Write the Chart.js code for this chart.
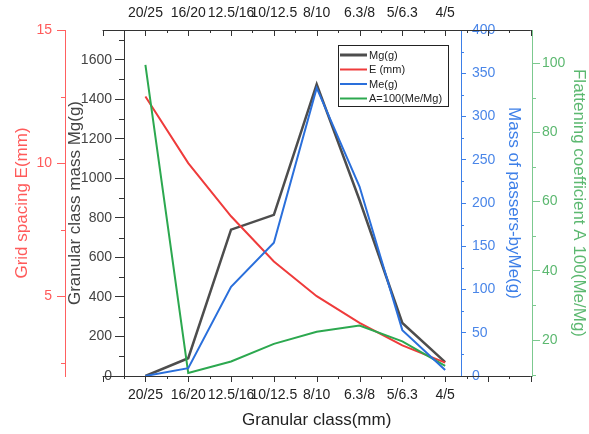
<!DOCTYPE html>
<html>
<head>
<meta charset="utf-8">
<script src="https://cdn.jsdelivr.net/npm/chart.js@4/dist/chart.umd.min.js"></script>
<style>
  body { margin: 0; background: #fff; }
  canvas { display: block; }
</style>
</head>
<body>
<canvas id="chart" width="589" height="434"></canvas>
<script>
// granular classes and measured series
const categories = ['20/25', '16/20', '12.5/16', '10/12.5', '8/10', '6.3/8', '5/6.3', '4/5'];
const massMg = [0, 90, 740, 815, 1475, 890, 268, 70];
const spacingE = [12.5, 10, 8, 6.3, 5, 4, 3.15, 2.5];
const passMe = [0, 9, 103, 154, 333, 219, 53, 7];
const flatA = [99.5, 10.5, 13.8, 18.9, 22.4, 24.2, 19.6, 12.5];

// major tick values of each y axis
const ticksE = [5, 10, 15];
const ticksMg = [0, 200, 400, 600, 800, 1000, 1200, 1400, 1600];
const ticksMe = [0, 50, 100, 150, 200, 250, 300, 350, 400];
const ticksA = [20, 40, 60, 80, 100];

const FONT = 'Arial, "Liberation Sans", sans-serif';
const toXY = arr => arr.map((v, i) => ({x: i, y: v}));
const catTicks = s => { s.ticks = categories.map((c, i) => ({value: i})); };
const setTicks = list => s => { s.ticks = list.map(v => ({value: v})); };

// minor ticks for each y axis
const minorTicks = {
    yE: {step: 5, offset: 2.5, len: 4, color: '#ff6060'},
    yMg: {step: 200, offset: 100, len: 5, color: '#333'},
    yMe: {step: 50, offset: 25, len: 3, color: '#3d7fe8'},
    yA: {step: 20, offset: 10, len: 4, color: '#7cc98f'}
};

const extrasPlugin = {
    id: 'extras',
    afterDraw(chart) {
        const ctx = chart.ctx;
        const xs = chart.scales.x;
        const area = chart.chartArea;
        const x0 = xs.getPixelForValue(-1), x1 = xs.getPixelForValue(9);
        ctx.save();
        // long top/bottom axis lines
        ctx.strokeStyle = '#333';
        ctx.lineWidth = 1;
        ctx.beginPath();
        ctx.moveTo(x0, area.top + 0.5); ctx.lineTo(x1, area.top + 0.5);
        ctx.moveTo(x0, area.bottom + 0.5); ctx.lineTo(x1, area.bottom + 0.5);
        for (let v = -1; v <= 9; v += 0.5) {
            const px = Math.round(xs.getPixelForValue(v)) + 0.5;
            const len = Number.isInteger(v) ? 6 : 3;
            ctx.moveTo(px, area.bottom); ctx.lineTo(px, area.bottom + len);
            ctx.moveTo(px, area.top); ctx.lineTo(px, area.top + len);
        }
        ctx.stroke();

        // minor y ticks
        Object.keys(minorTicks).forEach(id => {
            const s = chart.scales[id];
            const m = minorTicks[id];
            const ax = s.position === 'left' ? s.right : s.left;
            const dir = s.position === 'left' ? -1 : 1;
            ctx.strokeStyle = m.color;
            ctx.beginPath();
            const start = Math.ceil((s.min - m.offset) / m.step) * m.step + m.offset;
            for (let v = start; v <= s.max + 1e-9; v += m.step) {
                const py = Math.round(s.getPixelForValue(v)) + 0.5;
                ctx.moveTo(ax, py); ctx.lineTo(ax + dir * m.len, py);
            }
            ctx.stroke();
        });

        // x axis title, centred on the long axis
        ctx.fillStyle = '#222';
        ctx.font = '17px ' + FONT;
        ctx.textAlign = 'center';
        ctx.textBaseline = 'middle';
        ctx.fillText('Granular class(mm)', (x0 + x1) / 2, 420);

        // legend box
        const lx = 338, ly = 45, lw = 110, lh = 61;
        ctx.fillStyle = '#fff';
        ctx.fillRect(lx, ly, lw, lh);
        ctx.strokeStyle = '#222';
        ctx.lineWidth = 1;
        ctx.strokeRect(lx + 0.5, ly + 0.5, lw, lh);
        ctx.font = '11px ' + FONT;
        ctx.textAlign = 'left';
        chart.data.datasets.forEach((ds, i) => {
            const y = ly + 10 + i * 14.5;
            ctx.strokeStyle = ds.borderColor;
            ctx.lineWidth = i === 0 ? 3 : 2;
            ctx.beginPath();
            ctx.moveTo(lx + 2, y); ctx.lineTo(lx + 29, y);
            ctx.stroke();
            ctx.fillStyle = '#222';
            ctx.fillText(ds.label, lx + 31, y + 0.5);
        });
        ctx.restore();
    }
};

const plain = v => String(v);

new Chart(document.getElementById('chart').getContext('2d'), {
    type: 'line',
    data: {
        datasets: [
            {label: 'Mg(g)', data: toXY(massMg), yAxisID: 'yMg', borderColor: '#4d4d4d', borderWidth: 2.5, order: 3},
            {label: 'E (mm)', data: toXY(spacingE), yAxisID: 'yE', borderColor: '#ef3b3b', borderWidth: 2, order: 2},
            {label: 'Me(g)', data: toXY(passMe), yAxisID: 'yMe', borderColor: '#2a6fdb', borderWidth: 2, order: 0},
            {label: 'A=100(Me/Mg)', data: toXY(flatA), yAxisID: 'yA', borderColor: '#2ca84f', borderWidth: 2, order: 1}
        ]
    },
    options: {
        responsive: false,
        animation: false,
        layout: {padding: 0},
        elements: {point: {radius: 0}, line: {tension: 0}},
        plugins: {legend: {display: false}, tooltip: {enabled: false}},
        scales: {
            x: {
                type: 'linear', position: 'bottom', min: -0.5, max: 7.37,
                afterBuildTicks: catTicks,
                afterFit: s => { s.height = 58; },
                grid: {display: false}, border: {display: false},
                ticks: {callback: v => categories[v], autoSkip: false, maxRotation: 0, minRotation: 0,
                        padding: 3, color: '#222', font: {family: FONT, size: 14}}
            },
            x2: {
                type: 'linear', position: 'top', min: -0.5, max: 7.37,
                afterBuildTicks: catTicks,
                afterFit: s => { s.height = 30; },
                grid: {display: false}, border: {display: false},
                ticks: {callback: v => categories[v], autoSkip: false, maxRotation: 0, minRotation: 0,
                        padding: 0, color: '#222', font: {family: FONT, size: 14}}
            },
            yE: {
                position: 'left', weight: 2, min: 2, max: 15,
                afterBuildTicks: setTicks(ticksE),
                afterFit: s => { s.width = 65; },
                grid: {drawOnChartArea: false, tickLength: 8, tickColor: '#ff6060'},
                border: {color: '#ff6060'},
                ticks: {callback: plain, padding: 5, color: '#ff5a5a', font: {family: FONT, size: 14}},
                title: {display: true, text: 'Grid spacing E(mm)', color: '#ff5a5a',
                        font: {family: FONT, size: 17}, padding: {top: 12, bottom: 0}}
            },
            yMg: {
                position: 'left', weight: 1, min: 0, max: 1750,
                afterBuildTicks: setTicks(ticksMg),
                afterFit: s => { s.width = 59; },
                grid: {drawOnChartArea: false, tickLength: 9, tickColor: '#333'},
                border: {color: '#333'},
                ticks: {callback: plain, padding: 3, color: '#444', font: {family: FONT, size: 14}},
                title: {display: true, text: 'Granular class mass Mg(g)', color: '#444',
                        font: {family: FONT, size: 17}, padding: {top: 0, bottom: 0}}
            },
            yMe: {
                position: 'right', weight: 1, min: 0, max: 400,
                afterBuildTicks: setTicks(ticksMe),
                afterFit: s => { s.width = 71; },
                grid: {drawOnChartArea: false, tickLength: 5, tickColor: '#3d7fe8'},
                border: {color: '#3d7fe8'},
                ticks: {callback: plain, padding: 6, color: '#4a86e8', font: {family: FONT, size: 14}},
                title: {display: true, text: 'Mass of passers-byMe(g)', color: '#3d7fe8',
                        font: {family: FONT, size: 17}, padding: {top: 8, bottom: 0}}
            },
            yA: {
                position: 'right', weight: 2, min: 9.6, max: 109.6,
                afterBuildTicks: setTicks(ticksA),
                afterFit: s => { s.width = 57; },
                grid: {drawOnChartArea: false, tickLength: 8, tickColor: '#7cc98f'},
                border: {color: '#7cc98f'},
                ticks: {callback: plain, padding: 2, color: '#5cb870', font: {family: FONT, size: 14}},
                title: {display: true, text: 'Flattening coefficient A 100(Me/Mg)', color: '#5cb870',
                        font: {family: FONT, size: 17}, padding: {top: 0, bottom: 0}}
            }
        }
    },
    plugins: [extrasPlugin]
});
</script>
</body>
</html>
